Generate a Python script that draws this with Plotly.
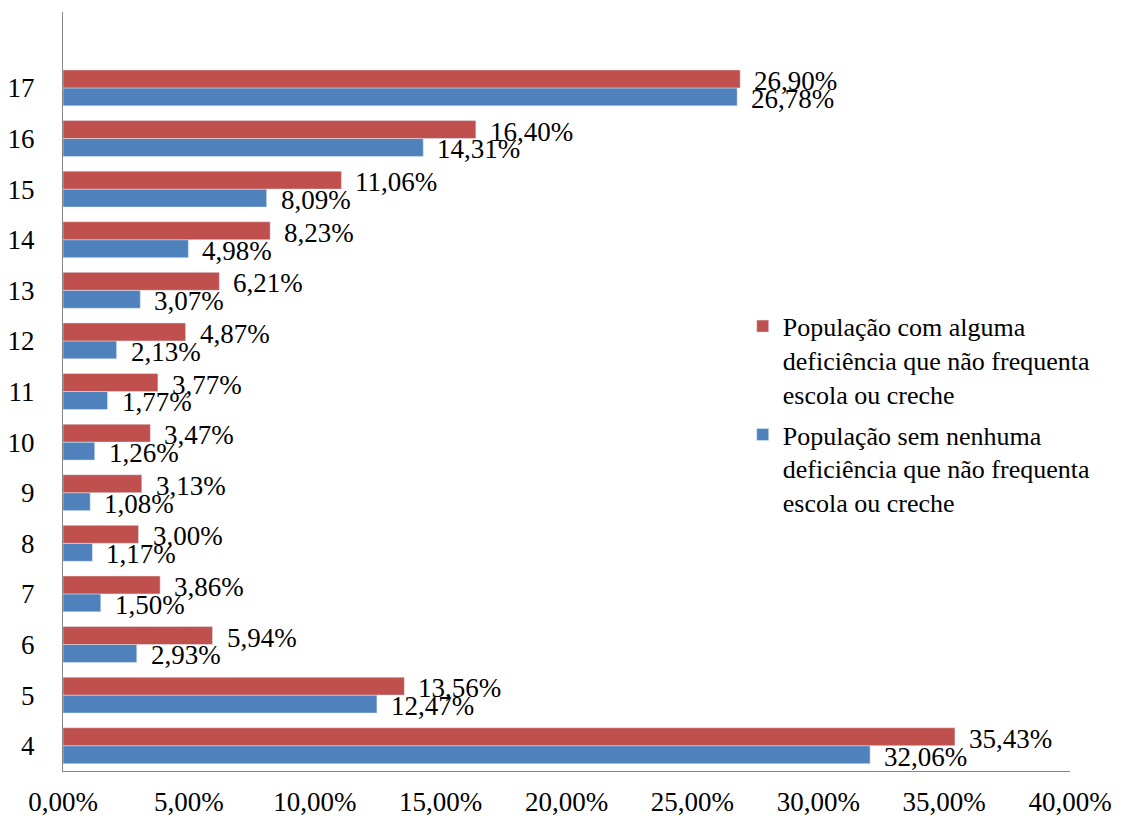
import plotly.graph_objects as go

categories = [4, 5, 6, 7, 8, 9, 10, 11, 12, 13, 14, 15, 16, 17]
com_deficiencia = [35.43, 13.56, 5.94, 3.86, 3.00, 3.13, 3.47, 3.77, 4.87, 6.21, 8.23, 11.06, 16.40, 26.90]
sem_deficiencia = [32.06, 12.47, 2.93, 1.50, 1.17, 1.08, 1.26, 1.77, 2.13, 3.07, 4.98, 8.09, 14.31, 26.78]
x_ticks = [0, 0.05, 0.10, 0.15, 0.20, 0.25, 0.30, 0.35, 0.40]

name_com = "População com alguma<br>deficiência que não frequenta<br>escola ou creche"
name_sem = "População sem nenhuma<br>deficiência que não frequenta<br>escola ou creche"

RED = "#C0504D"
BLUE = "#4F81BD"
FONT = "Liberation Serif, Times New Roman, serif"
BARGAP = 0.29

fig = go.Figure()
fig.add_trace(go.Bar(
    y=categories, x=[v / 100 for v in sem_deficiencia], orientation="h",
    name=name_sem, marker=dict(color=BLUE), legendgroup="b", legendrank=2,
))
fig.add_trace(go.Bar(
    y=categories, x=[v / 100 for v in com_deficiencia], orientation="h",
    name=name_com, marker=dict(color=RED), legendgroup="a", legendrank=1,
))

half = (1 - BARGAP) / 4
annotations = []
for c, v in zip(categories, com_deficiencia):
    annotations.append(dict(x=v / 100, y=c + half, xref="x", yref="y",
                            text=f"{v:.2f}%".replace(".", ","), showarrow=False,
                            xanchor="left", yanchor="middle", xshift=12, yshift=-2,
                            font=dict(family=FONT, size=27, color="black")))
for c, v in zip(categories, sem_deficiencia):
    annotations.append(dict(x=v / 100, y=c - half, xref="x", yref="y",
                            text=f"{v:.2f}%".replace(".", ","), showarrow=False,
                            xanchor="left", yanchor="middle", xshift=12, yshift=-2,
                            font=dict(family=FONT, size=27, color="black")))

fig.update_layout(
    width=1125, height=817,
    margin=dict(l=63, r=55, t=12, b=46),
    paper_bgcolor="white", plot_bgcolor="white",
    barmode="group", bargap=BARGAP, bargroupgap=0,
    separators=",.",
    font=dict(family=FONT, size=27, color="black"),
    annotations=annotations,
    showlegend=True,
    legend=dict(x=0.675, y=0.617, xanchor="left", yanchor="top",
                traceorder="grouped", tracegroupgap=4, valign="top",
                font=dict(family=FONT, size=26, color="black"),
                bgcolor="rgba(0,0,0,0)"),
    xaxis=dict(range=[0, 0.40], tickvals=x_ticks, tickformat=".2%",
               showgrid=False, zeroline=False, showline=True,
               linecolor="#868686", linewidth=1, ticks="",
               ticklabelstandoff=7, automargin=False),
    yaxis=dict(range=[3.5, 18.5], tickvals=categories, ticktext=[str(c) for c in categories],
               showgrid=False, zeroline=False, showline=True,
               linecolor="#868686", linewidth=1, ticks="",
               ticklabelstandoff=22, automargin=False),
)

fig.write_html("out.html", config={"displayModeBar": False},
               post_script="document.body.style.margin='0';")
